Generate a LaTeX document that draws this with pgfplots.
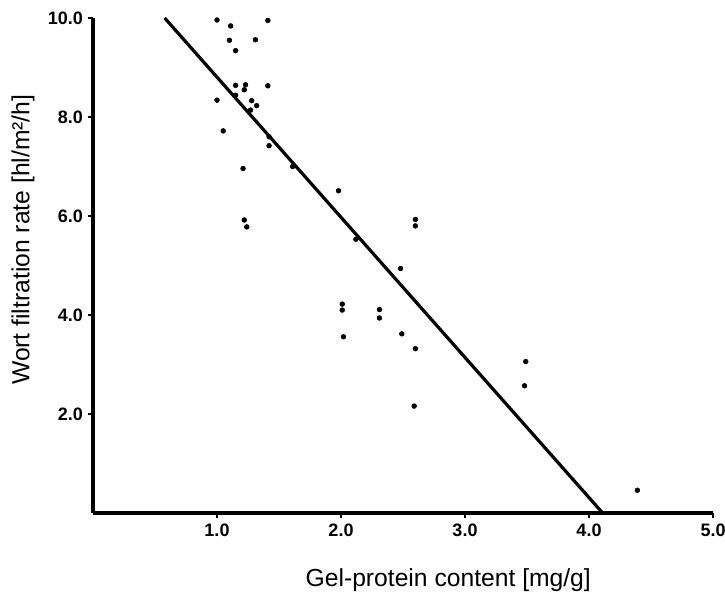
\documentclass[border=0pt]{standalone}
\usepackage{fontspec}
\setmainfont{Liberation Sans}
\usepackage{pgfplots}
\pgfplotsset{compat=1.18}

\begin{document}
\begin{tikzpicture}
\begin{axis}[
    scale only axis,
    width=465pt, height=371.25pt,
    xmin=0, xmax=5, ymin=0, ymax=10,
    axis x line=bottom, axis y line=left,
    axis line style={line width=2.6pt, -},
    xtick={1,2,3,4,5}, ytick={2,4,6,8,10},
    tick align=outside, major tick length=4pt,
    tick style={line width=1.2pt, black},
    /pgf/number format/.cd, fixed, fixed zerofill, precision=1, assume math mode=true,
    /pgfplots/.cd,
    ticklabel style={font=\fontsize{13.5}{15}\selectfont\bfseries},
    xticklabel style={yshift=-1pt},
    xlabel={Gel-protein content [mg/g]},
    ylabel={Wort filtration rate [hl/m²/h]},
    label style={font=\fontsize{18.5}{21}\selectfont},
    xlabel style={at={(axis description cs:0.573,-0.135)}, anchor=center},
    ylabel style={at={(axis description cs:-0.113,0.552)}, anchor=center},
    clip=false,
]
\addplot[only marks, mark=*, mark size=1.8pt, black] coordinates {
(1.00,9.96) (1.11,9.84) (1.41,9.95) (1.10,9.55) (1.31,9.56) (1.15,9.34)
(1.15,8.64) (1.23,8.65) (1.22,8.55) (1.41,8.63) (1.00,8.34) (1.15,8.44)
(1.28,8.33) (1.32,8.23) (1.27,8.14) (1.05,7.72) (1.42,7.60) (1.42,7.42)
(1.21,6.96) (1.61,7.00) (1.22,5.92) (1.24,5.78) (1.98,6.51) (2.60,5.93)
(2.60,5.80) (2.12,5.53) (2.48,4.94) (2.01,4.22) (2.01,4.10) (2.31,4.11)
(2.31,3.94) (2.02,3.56) (2.49,3.62) (2.60,3.32) (3.49,3.06) (3.48,2.57)
(2.59,2.16) (4.39,0.46)
};
\addplot[black, line width=2.4pt] coordinates {(0.578,10) (4.11,0)};
\end{axis}
\pgfresetboundingbox
\path[use as bounding box] ([shift={(-69.75pt,-60pt)}]current axis.south west)
    rectangle ([shift={(9pt,13.5pt)}]current axis.north east);
\end{tikzpicture}
\end{document}
